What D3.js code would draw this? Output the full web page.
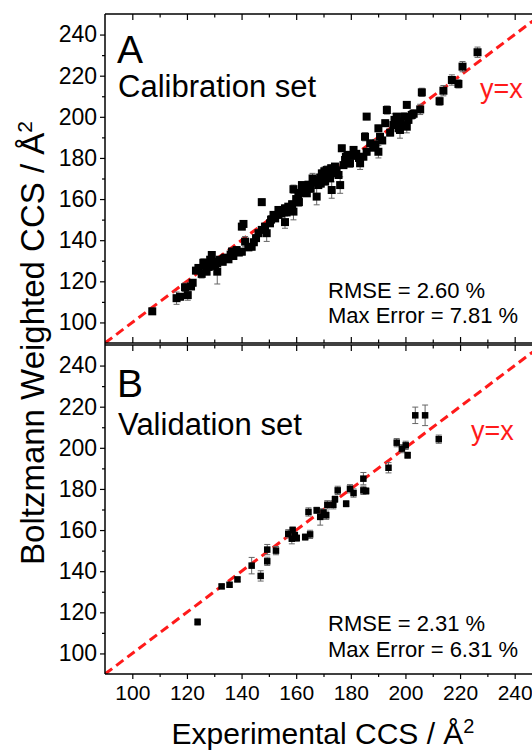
<!DOCTYPE html>
<html>
<head>
<meta charset="utf-8">
<script src="https://cdn.jsdelivr.net/npm/d3@7/dist/d3.min.js"></script>
<style>
  html, body { margin: 0; padding: 0; background: #fff; }
  svg { display: block; font-family: "Liberation Sans", Arial, sans-serif; }
</style>
</head>
<body>
<svg id="chart" width="532" height="753"></svg>
<script>
// ---------- data ----------
const xMajorTicks = [100, 120, 140, 160, 180, 200, 220, 240];
const yMajorTicks = [100, 120, 140, 160, 180, 200, 220, 240];
const minorTicks = [90, 110, 130, 150, 170, 190, 210, 230, 250];

// Calibration set: experimental CCS, Boltzmann weighted CCS, error (Å²)
const calX = [107.3,116.2,117.5,119.3,120.3,121.5,122.1,123.3,124.2,125.4,126.0,127.2,128.0,129.1,129.5,130.3,131.1,131.1,132.0,133.1,
  134.0,135.2,136.0,137.0,138.2,139.0,140.1,140.7,140.1,141.3,142.5,143.7,144.5,145.3,146.2,147.4,147.4,148.6,149.2,150.4,
  151.7,152.3,153.5,153.5,154.5,155.3,155.9,155.9,157.1,157.8,158.5,159.0,159.0,160.0,160.8,161.5,162.1,163.0,163.9,164.5,
  165.3,166.3,167.0,167.5,168.1,168.8,169.4,170.0,170.6,171.2,171.8,172.4,173.0,173.5,174.2,175.5,176.1,176.7,177.3,177.9,
  178.8,179.7,181.0,182.0,183.4,184.6,185.2,185.8,185.8,187.1,188.2,190.1,190.1,190.7,191.5,192.6,193.2,194.4,195.6,196.8,
  197.5,198.0,198.0,199.0,200.5,201.1,200.5,202.3,205.4,206.0,212.5,213.9,217.0,219.4,220.9,226.4,
  126.5,128.5,133.5,136.5,150.8,156.5,161.0,164.0,166.0,169.0,170.3,172.8,174.8,178.2,180.2,183.0,189.0,196.0,199.5,203.0];
const calY = [105.4,111.8,112.5,117.1,113.3,117.5,119.3,125.2,126.5,123.6,129.0,124.7,127.0,132.8,129.5,127.5,124.7,128.8,130.5,129.5,
  131.5,130.7,133.0,132.3,135.2,134.0,134.4,147.9,146.6,139.3,136.5,136.8,139.0,141.0,143.4,145.0,158.5,146.6,143.4,148.2,
  152.3,150.6,152.3,154.7,153.0,154.7,148.8,155.5,156.3,155.5,157.5,153.9,164.8,160.0,161.5,163.0,166.8,164.5,162.8,167.0,
  165.0,169.3,168.0,161.2,166.8,170.5,172.5,171.0,168.5,174.1,173.0,170.1,164.4,172.5,175.8,171.7,166.8,184.7,176.5,179.0,
  181.5,177.4,183.9,182.0,177.4,180.6,190.3,183.0,200.1,187.1,185.0,183.0,194.4,190.3,188.5,196.9,203.3,192.3,196.0,200.1,
  194.5,197.6,193.6,196.0,195.2,198.5,205.8,200.9,203.6,211.9,207.6,212.7,217.9,216.0,224.4,231.4,
  127.5,130.5,131.0,134.5,150.0,153.5,158.5,166.0,170.0,167.5,173.5,175.0,174.0,180.5,181.0,180.0,186.5,198.5,200.0,201.5];
const calErr = [1.5,3,1.5,2,2.5,1.5,1.5,1.5,1.5,2,2,1.5,1.5,1.5,1.5,1.5,6,1.5,1.5,1.5,
  1.5,1.5,1.5,1.5,1.5,1.5,1.5,1.5,1.5,2.5,1.5,1.5,1.5,1.5,1.5,1.5,1.5,1.5,4,1.5,
  1.5,1.5,1.5,1.5,1.5,1.5,3,1.5,1.5,1.5,1.5,4,2,1.5,1.5,1.5,1.5,1.5,1.5,1.5,
  1.5,1.5,1.5,4,1.5,1.5,1.5,1.5,1.5,2,1.5,1.5,4,1.5,1.5,1.5,4,1.5,1.5,1.5,
  1.5,2,1.5,1.5,3,1.5,2,1.5,1.5,1.5,1.5,3,1.5,1.5,1.5,1.5,2,1.5,1.5,1.5,
  2,1.5,4,1.5,3,1.5,1.5,2,2.5,2,2,2.5,2.5,2,2.5,2.5,
  1.5,1.5,1.5,1.5,2,1.5,2,1.5,2.5,1.5,2,1.5,2,2.5,1.5,2,2.5,3,2,2];

// Validation set
const valX = [123.9,132.7,135.6,138.5,143.7,147.0,149.4,149.4,152.6,157.1,158.7,158.4,159.5,160.2,163.3,165.1,164.5,167.5,168.8,170.0,
  171.0,171.4,173.6,175.2,174.2,178.3,179.7,181.0,184.6,184.6,185.6,193.8,196.8,198.7,200.1,200.8,203.6,207.2,212.2];
const valY = [115.3,132.6,133.4,136.0,142.7,137.7,150.5,144.8,150.0,158.2,160.0,155.8,157.5,156.1,156.6,157.9,168.8,169.6,166.4,168.5,
  167.2,172.3,172.3,179.3,175.0,172.8,180.1,178.0,185.0,179.3,179.0,190.3,202.5,199.6,201.2,196.4,215.8,215.8,204.2];
const valErr = [1.5,1,1,1,4,2.5,2.5,2,2,2,1.5,2.5,1.5,1.5,1.5,2,2,1.5,4,1.5,
  2,2,2,2,1.5,1.5,2,2,3,2,1.5,2.5,2,2,2,1.5,4,5,2];

const panels = [
  {letter: "A", title: "Calibration set", xs: calX, ys: calY, es: calErr, rmse: "RMSE = 2.60 %", maxErr: "Max Error = 7.81 %"},
  {letter: "B", title: "Validation set", xs: valX, ys: valY, es: valErr, rmse: "RMSE = 2.31 %", maxErr: "Max Error = 6.31 %"}
];

// ---------- layout ----------
const svg = d3.select("#chart");
const x = d3.scaleLinear().domain([90, 250]).range([105, 542]);
const yRanges = [[343, 14], [674, 345]];
const layout = [
  {letterY: 63, titleY: 97, yxX: 480, yxY: 98, statY1: 298, statY2: 323, size: 8},
  {letterY: 397, titleY: 435, yxX: 471, yxY: 440, statY1: 631, statY2: 657, size: 6.5}
];

panels.forEach((p, i) => {
  const y = d3.scaleLinear().domain([90, 250]).range(yRanges[i]);
  const L = layout[i];
  const top = yRanges[i][1], bot = yRanges[i][0];
  const g = svg.append("g");
  const clipId = "clip" + i;
  svg.append("clipPath").attr("id", clipId).append("rect")
    .attr("x", 105).attr("y", top).attr("width", 532 - 105).attr("height", bot - top);

  // y=x dashed line
  g.append("line").attr("clip-path", `url(#${clipId})`)
    .attr("x1", x(90)).attr("y1", y(90)).attr("x2", x(250)).attr("y2", y(250))
    .attr("stroke", "#ff1a1a").attr("stroke-width", 3).attr("stroke-dasharray", "9,5");

  const data = p.xs.map((v, k) => ({x: v, y: p.ys[k], e: p.es[k]}));
  const eb = g.append("g").attr("stroke", "#666").attr("stroke-width", 1).attr("fill", "none");
  data.forEach(d => {
    const cx = x(d.x);
    eb.append("line").attr("x1", cx).attr("x2", cx).attr("y1", y(d.y - d.e)).attr("y2", y(d.y + d.e));
    eb.append("line").attr("x1", cx - 3).attr("x2", cx + 3).attr("y1", y(d.y - d.e)).attr("y2", y(d.y - d.e));
    eb.append("line").attr("x1", cx - 3).attr("x2", cx + 3).attr("y1", y(d.y + d.e)).attr("y2", y(d.y + d.e));
  });
  g.append("g").selectAll("rect").data(data).join("rect")
    .attr("x", d => x(d.x) - L.size / 2).attr("y", d => y(d.y) - L.size / 2)
    .attr("width", L.size).attr("height", L.size).attr("fill", "#000");

  // axes
  const axisStyle = sel => {
    sel.select(".domain").remove();
    sel.selectAll("line").attr("stroke", "#000").attr("stroke-width", 1.2);
    sel.selectAll("text").attr("fill", "#000").style("font-family", '"Liberation Sans", Arial, sans-serif');
  };
  // left
  svg.append("g").attr("transform", "translate(105,0)")
    .call(d3.axisLeft(y).tickValues(yMajorTicks).tickSize(5).tickPadding(3).tickFormat(d3.format("d")))
    .call(axisStyle).selectAll("text").style("font-size", "23px");
  svg.append("g").attr("transform", "translate(105,0)")
    .call(d3.axisLeft(y).tickValues(minorTicks.filter(v => v > 90 && v < 250)).tickSize(3).tickFormat(""))
    .call(axisStyle);
  // top (inward)
  svg.append("g").attr("transform", `translate(0,${top})`)
    .call(d3.axisBottom(x).tickValues(xMajorTicks).tickSize(6).tickFormat(""))
    .call(axisStyle);
  svg.append("g").attr("transform", `translate(0,${top})`)
    .call(d3.axisBottom(x).tickValues(minorTicks.filter(v => v > 90)).tickSize(3.5).tickFormat(""))
    .call(axisStyle);
  if (i === 0) {
    // bottom of A (inward)
    svg.append("g").attr("transform", `translate(0,${bot})`)
      .call(d3.axisTop(x).tickValues(xMajorTicks).tickSize(6).tickFormat(""))
      .call(axisStyle);
    svg.append("g").attr("transform", `translate(0,${bot})`)
      .call(d3.axisTop(x).tickValues(minorTicks.filter(v => v > 90)).tickSize(3.5).tickFormat(""))
      .call(axisStyle);
  } else {
    svg.append("g").attr("transform", `translate(0,${bot})`)
      .call(d3.axisBottom(x).tickValues(xMajorTicks).tickSize(5).tickPadding(6).tickFormat(d3.format("d")))
      .call(axisStyle).selectAll("text").style("font-size", "21px");
    svg.append("g").attr("transform", `translate(0,${bot})`)
      .call(d3.axisBottom(x).tickValues(minorTicks.filter(v => v > 90)).tickSize(3).tickFormat(""))
      .call(axisStyle);
  }
  // frame lines
  svg.append("line").attr("x1", 105).attr("x2", 532).attr("y1", top).attr("y2", top)
    .attr("stroke", "#000").attr("stroke-width", 1.5);
  svg.append("line").attr("x1", 105).attr("x2", 532).attr("y1", bot).attr("y2", bot)
    .attr("stroke", "#000").attr("stroke-width", 1.5);

  // labels
  svg.append("text").attr("x", 117).attr("y", L.letterY).text(p.letter)
    .style("font-size", "39px").attr("fill", "#000");
  svg.append("text").attr("x", 118).attr("y", L.titleY).text(p.title)
    .style("font-size", "31px").attr("fill", "#000");
  svg.append("text").attr("x", L.yxX).attr("y", L.yxY).text("y=x")
    .style("font-size", "27px").attr("fill", "#ff1a1a");
  svg.append("text").attr("x", 328).attr("y", L.statY1).text(p.rmse)
    .style("font-size", "22px").attr("fill", "#000");
  svg.append("text").attr("x", 328).attr("y", L.statY2).text(p.maxErr)
    .style("font-size", "22px").attr("fill", "#000");
});

// left axis spine
svg.append("line").attr("x1", 105).attr("x2", 105).attr("y1", 14).attr("y2", 674)
  .attr("stroke", "#000").attr("stroke-width", 1.5);

// axis titles
const xt = svg.append("text").attr("x", 323).attr("y", 744).attr("text-anchor", "middle")
  .style("font-size", "30px").attr("fill", "#000");
xt.append("tspan").text("Experimental CCS / Å");
xt.append("tspan").attr("dy", "-0.55em").style("font-size", "20px").text("2");

const yt = svg.append("text").attr("transform", "translate(44,343) rotate(-90)")
  .attr("text-anchor", "middle").style("font-size", "33px").attr("fill", "#000");
yt.append("tspan").text("Boltzmann Weighted CCS / Å");
yt.append("tspan").attr("dy", "-0.55em").style("font-size", "21px").text("2");
</script>
</body>
</html>
